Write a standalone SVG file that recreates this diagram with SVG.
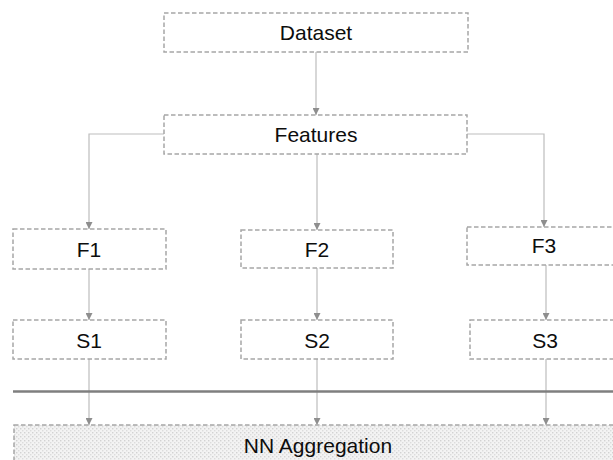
<svg xmlns="http://www.w3.org/2000/svg" width="613" height="460" viewBox="0 0 613 460">
<style>
.box{fill:#ffffff;stroke:#a6a6a6;stroke-width:1.5;stroke-dasharray:4.5 2.5}
.lbl{font-family:"Liberation Sans",Arial,sans-serif;font-size:21px;fill:#0d0d0d;text-anchor:middle}
.con{fill:none;stroke:#bdbdbd;stroke-width:1.2}
</style>
<defs>
<marker id="ah" viewBox="0 0 10 10" refX="10" refY="5" markerWidth="7" markerHeight="7" markerUnits="userSpaceOnUse" orient="auto">
<path d="M0,0 L10,5 L0,10 Z" fill="#8e8e8e"/>
</marker>
<pattern id="dots" width="4" height="4" patternUnits="userSpaceOnUse">
<rect width="4" height="4" fill="#f3f3f3"/>
<rect x="0" y="0" width="1.4" height="1.4" fill="#d2d2d2"/>
<rect x="2" y="2" width="1.4" height="1.4" fill="#dcdcdc"/>
</pattern>
</defs>
<g id="connectors">
<line class="con" x1="316" y1="52" x2="316" y2="115" marker-end="url(#ah)"/>
<polyline class="con" points="164,134 89,134 89,229" marker-end="url(#ah)"/>
<line class="con" x1="317" y1="154" x2="317" y2="230" marker-end="url(#ah)"/>
<polyline class="con" points="467,134 544,134 544,227" marker-end="url(#ah)"/>
<line class="con" x1="89" y1="269" x2="89" y2="320" marker-end="url(#ah)"/>
<line class="con" x1="317" y1="268" x2="317" y2="320" marker-end="url(#ah)"/>
<line class="con" x1="546" y1="265" x2="546" y2="320" marker-end="url(#ah)"/>
<line class="con" x1="89" y1="359" x2="89" y2="425" marker-end="url(#ah)"/>
<line class="con" x1="317" y1="359" x2="317" y2="425" marker-end="url(#ah)"/>
<line class="con" x1="546" y1="359" x2="546" y2="425" marker-end="url(#ah)"/>
</g>
<line id="divider" x1="13" y1="391.5" x2="613" y2="391.5" stroke="#7f7f7f" stroke-width="2.6"/>
<g id="dataset"><rect class="box" x="164" y="13" width="304" height="39"/><text class="lbl" x="316" y="40">Dataset</text></g>
<g id="features"><rect class="box" x="164" y="115" width="303" height="39"/><text class="lbl" x="316" y="142">Features</text></g>
<g id="f1"><rect class="box" x="13" y="229" width="153" height="40"/><text class="lbl" x="89" y="257">F1</text></g>
<g id="f2"><rect class="box" x="241" y="230" width="152" height="38"/><text class="lbl" x="317" y="257">F2</text></g>
<g id="f3"><rect class="box" x="467" y="227" width="150" height="38"/><text class="lbl" x="544" y="253">F3</text></g>
<g id="s1"><rect class="box" x="13" y="320" width="153" height="39"/><text class="lbl" x="89" y="348">S1</text></g>
<g id="s2"><rect class="box" x="241" y="320" width="152" height="39"/><text class="lbl" x="317" y="348">S2</text></g>
<g id="s3"><rect class="box" x="470" y="320" width="147" height="39"/><text class="lbl" x="545" y="348">S3</text></g>
<g id="nn"><rect x="14" y="425" width="603" height="45" fill="url(#dots)" stroke="#a6a6a6" stroke-width="1.5" stroke-dasharray="4.5 2.5"/><text class="lbl" x="318" y="453">NN Aggregation</text></g>
</svg>
